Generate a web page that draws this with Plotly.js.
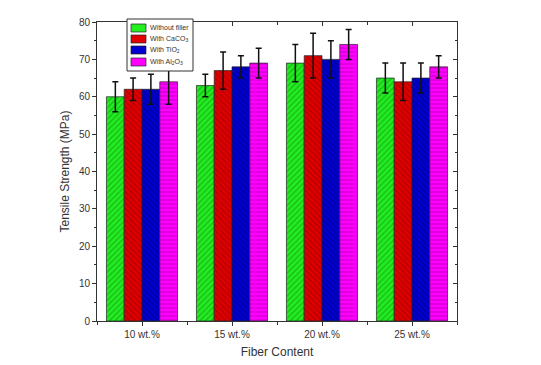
<!DOCTYPE html>
<html>
<head>
<meta charset="utf-8">
<script src="https://cdn.plot.ly/plotly-3.0.1.min.js"></script>
<style>
  body { margin: 0; background: #fff; }
  #chart { width: 541px; height: 365px; }
</style>
</head>
<body>
<div id="chart"></div>
<script>
// fiber content groups
const categories = ["10 wt.%", "15 wt.%", "20 wt.%", "25 wt.%"];
const groupPos = [0, 1, 2, 3];

// tensile strength (MPa) and error bars
const withoutFiller = [60, 63, 69, 65];
const withoutFillerErr = [4, 3, 5, 4];
const withCaCO3 = [62, 67, 71, 64];
const withCaCO3Err = [3, 5, 6, 5];
const withTiO2 = [62, 68, 70, 65];
const withTiO2Err = [4, 3, 5, 4];
const withAl2O3 = [64, 69, 74, 68];
const withAl2O3Err = [6, 4, 4, 3];

const seriesNames = ["Without filler", "With CaCO<sub>3</sub>", "With TiO<sub>2</sub>", "With Al<sub>2</sub>O<sub>3</sub>"];
const seriesColors = ["#22ee22", "#e00000", "#0000d0", "#ff00ff"];
const patternColors = ["#118811", "#880000", "#000070", "#aa00aa"];
const patternShapes = ["/", "\\", "\\", "-"];

function makeBar(i, y, err) {
  return {
    x: groupPos,
    y: y,
    name: seriesNames[i],
    type: "bar",
    showlegend: false,
    marker: {
      color: seriesColors[i],
      line: { color: "#222", width: 0.7 },
      pattern: { shape: patternShapes[i], fillmode: "overlay", fgcolor: patternColors[i], size: 4, solidity: 0.35 },
    },
    error_y: { type: "data", array: err, visible: true, color: "#111", thickness: 1.5, width: 3 },
  };
}

const data = [
  makeBar(0, withoutFiller, withoutFillerErr),
  makeBar(1, withCaCO3, withCaCO3Err),
  makeBar(2, withTiO2, withTiO2Err),
  makeBar(3, withAl2O3, withAl2O3Err),
  // empty trace so the top/right tick axes get drawn
  { x: [], y: [], xaxis: "x2", yaxis: "y2", type: "scatter", showlegend: false, hoverinfo: "skip" },
];

// plot box in pixels
const L = 97, R = 84, T = 22, B = 44, W = 541, H = 365;
const pw = W - L - R, ph = H - T - B;
const px = (x) => (x - L) / pw;
const py = (y) => (H - B - y) / ph;

// hand-drawn legend (plotly's legend rows are too tall at this size)
const shapes = [{
  type: "rect", xref: "paper", yref: "paper",
  x0: px(127), x1: px(193), y0: py(71), y1: py(19),
  fillcolor: "#fff", line: { color: "#333", width: 1 }, layer: "above",
}];
const annotations = [];
const rowY = [28, 39, 50, 62];
rowY.forEach((ry, i) => {
  shapes.push({
    type: "rect", xref: "paper", yref: "paper",
    x0: px(131), x1: px(146), y0: py(ry + 4), y1: py(ry - 4),
    fillcolor: seriesColors[i], line: { color: "#222", width: 0.7 }, layer: "above",
  });
  annotations.push({
    xref: "paper", yref: "paper", x: px(148), y: py(ry),
    xanchor: "left", yanchor: "middle", showarrow: false,
    text: seriesNames[i], font: { size: 7, color: "#333" },
  });
});

const layout = {
  width: W,
  height: H,
  margin: { l: L, r: R, t: T, b: B },
  paper_bgcolor: "#fff",
  plot_bgcolor: "#fff",
  barmode: "group",
  bargap: 0.21,
  bargroupgap: 0,
  font: { family: "Liberation Sans, Arial, sans-serif", color: "#333" },
  showlegend: false,
  shapes: shapes,
  annotations: annotations,
  xaxis: {
    range: [-0.5, 3.5],
    tickmode: "array",
    tickvals: groupPos,
    ticktext: categories,
    ticks: "outside",
    ticklen: 4,
    tickcolor: "#333",
    showline: true,
    linecolor: "#333",
    linewidth: 1,
    mirror: true,
    showgrid: false,
    zeroline: false,
    tickfont: { size: 10, color: "#333" },
    minor: { tickmode: "linear", tick0: 0.5, dtick: 1, ticks: "outside", ticklen: 3, tickcolor: "#333" },
    title: { text: "Fiber Content", font: { size: 12, color: "#333" }, standoff: 8 },
  },
  xaxis2: {
    overlaying: "x",
    side: "top",
    range: [-0.5, 3.5],
    tickmode: "array",
    tickvals: groupPos,
    showticklabels: false,
    ticks: "inside",
    ticklen: 4,
    tickcolor: "#333",
    showgrid: false,
    zeroline: false,
    minor: { tickmode: "linear", tick0: 0.5, dtick: 1, ticks: "inside", ticklen: 3, tickcolor: "#333" },
  },
  yaxis: {
    range: [0, 80],
    dtick: 10,
    ticks: "outside",
    ticklen: 4,
    tickcolor: "#333",
    showline: true,
    linecolor: "#333",
    linewidth: 1,
    mirror: true,
    showgrid: false,
    zeroline: false,
    tickfont: { size: 10, color: "#333" },
    minor: { dtick: 5, ticks: "outside", ticklen: 2, tickcolor: "#333" },
    title: { text: "Tensile Strength (MPa)", font: { size: 12, color: "#333" }, standoff: 6 },
  },
  yaxis2: {
    overlaying: "y",
    side: "right",
    range: [0, 80],
    dtick: 10,
    showticklabels: false,
    ticks: "inside",
    ticklen: 4,
    tickcolor: "#333",
    showgrid: false,
    zeroline: false,
    minor: { dtick: 5, ticks: "inside", ticklen: 2, tickcolor: "#333" },
  },
};

Plotly.newPlot("chart", data, layout, { displayModeBar: false, staticPlot: true });
</script>
</body>
</html>
